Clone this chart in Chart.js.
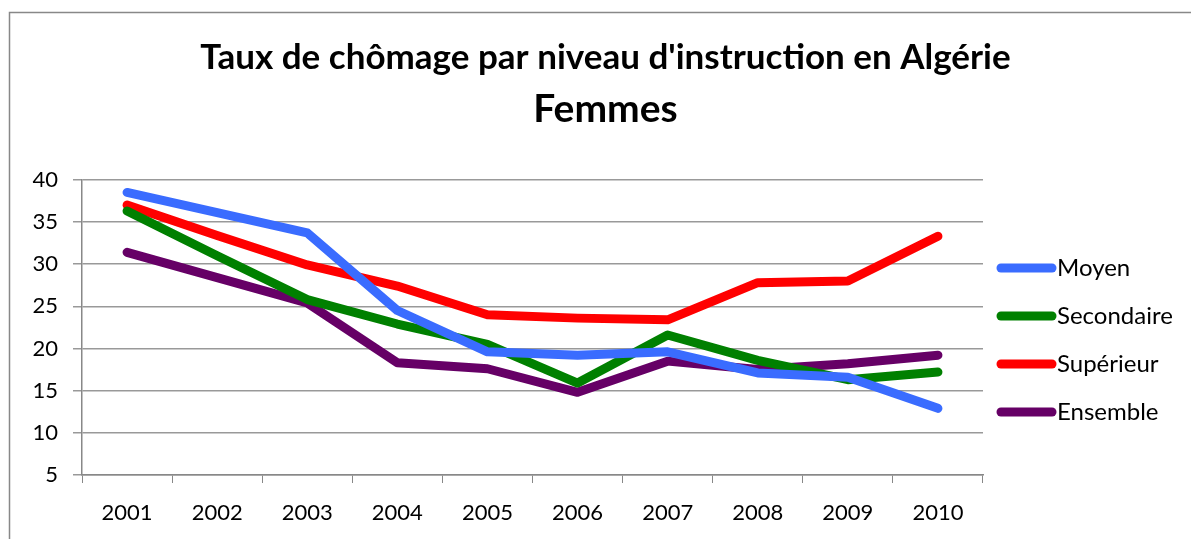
<!DOCTYPE html>
<html><head><meta charset="utf-8">
<script src="https://cdn.jsdelivr.net/npm/chart.js@4"></script>
<style>html,body{margin:0;padding:0;background:#fff;}#c{display:block;}</style>
</head><body>
<canvas id="c" width="1191" height="539"></canvas>
<script>
const years = ['2001','2002','2003','2004','2005','2006','2007','2008','2009','2010'];
const moyen      = [38.5, 36.1, 33.7, 24.5, 19.6, 19.2, 19.6, 17.1, 16.6, 12.9];
const secondaire = [36.3, 31.0, 25.8, 22.9, 20.5, 15.9, 21.6, 18.6, 16.3, 17.2];
const superieur  = [37.0, 33.4, 29.9, 27.4, 24.0, 23.6, 23.4, 27.8, 28.0, 33.3];
const ensemble   = [31.4, 28.4, 25.4, 18.3, 17.6, 14.8, 18.5, 17.5, 18.2, 19.2];
const yTicks = [5, 10, 15, 20, 25, 30, 35, 40];

const FONT = 'Lato, "Open Sans", sans-serif';

const framePlugin = {
  id: 'frame',
  beforeDraw(chart) {
    const ctx = chart.ctx;
    ctx.save();
    ctx.fillStyle = '#fff';
    ctx.fillRect(0, 0, chart.width, chart.height);
    ctx.strokeStyle = '#888';
    ctx.lineWidth = 1.5;
    ctx.beginPath();
    ctx.moveTo(9.5, 560);
    ctx.lineTo(9.5, 12.5);
    ctx.lineTo(1200, 12.5);
    ctx.stroke();
    ctx.restore();
  }
};

const legendPlugin = {
  id: 'customLegend',
  afterDraw(chart) {
    const ctx = chart.ctx;
    ctx.save();
    ctx.font = '24px ' + FONT;
    ctx.textBaseline = 'middle';
    ctx.textAlign = 'left';
    chart.data.datasets.forEach((ds, i) => {
      const y = 268 + i * 48;
      ctx.strokeStyle = ds.borderColor;
      ctx.lineWidth = 9;
      ctx.lineCap = 'round';
      ctx.beginPath();
      ctx.moveTo(1001, y);
      ctx.lineTo(1052, y);
      ctx.stroke();
      ctx.fillStyle = '#000';
      ctx.fillText(ds.label, 1057, y);
    });
    ctx.restore();
  }
};

const mk = (label, data, color) => ({
  label, data, borderColor: color, backgroundColor: color,
  borderWidth: 9, pointRadius: 0, pointHoverRadius: 0,
  borderCapStyle: 'round', borderJoinStyle: 'round', tension: 0, fill: false
});

new Chart(document.getElementById('c'), {
  type: 'line',
  data: {
    labels: years,
    datasets: [
      mk('Moyen', moyen, '#3a6cff'),
      mk('Secondaire', secondaire, '#008000'),
      mk('Supérieur', superieur, '#ff0000'),
      mk('Ensemble', ensemble, '#660066')
    ]
  },
  options: {
    responsive: false,
    animation: false,
    devicePixelRatio: 1,
    layout: { padding: { left: 20, right: 0, top: 0, bottom: 0 } },
    plugins: {
      legend: { display: false },
      tooltip: { enabled: false },
      title: {
        display: true,
        text: "Taux de chômage par niveau d'instruction en Algérie",
        color: '#000',
        font: { family: FONT, size: 35, weight: 'bold', lineHeight: 1.2 },
        padding: { top: 37, bottom: 7 }
      },
      subtitle: {
        display: true,
        text: 'Femmes',
        color: '#000',
        font: { family: FONT, size: 39, weight: 'bold', lineHeight: 1.2 },
        padding: { top: 0, bottom: 47 }
      }
    },
    scales: {
      x: {
        offset: true,
        grid: { display: true, offset: true, drawOnChartArea: false, drawTicks: true, tickLength: 8, color: '#888', lineWidth: 1 },
        border: { display: true, color: '#888', width: 1.5 },
        ticks: { color: '#000', font: { family: FONT, size: 22 }, padding: 17, maxRotation: 0, autoSkip: false },
        afterFit(s) { s.height = 64; }
      },
      y: {
        min: 5, max: 40,
        afterBuildTicks(s) { s.ticks = yTicks.map(v => ({ value: v })); },
        grid: { color: '#999', lineWidth: 1.5, tickLength: 9, drawTicks: true },
        border: { display: true, color: '#888', width: 1.5 },
        ticks: { color: '#000', font: { family: FONT, size: 22 }, padding: 15 },
        afterFit(s) { s.width = 62; }
      },
      yr: {
        position: 'right',
        display: true,
        min: 5, max: 40,
        grid: { display: false, drawOnChartArea: false },
        border: { display: false },
        ticks: { display: false },
        afterFit(s) { s.width = 208; }
      }
    }
  },
  plugins: [framePlugin, legendPlugin]
});
</script>
</body></html>
